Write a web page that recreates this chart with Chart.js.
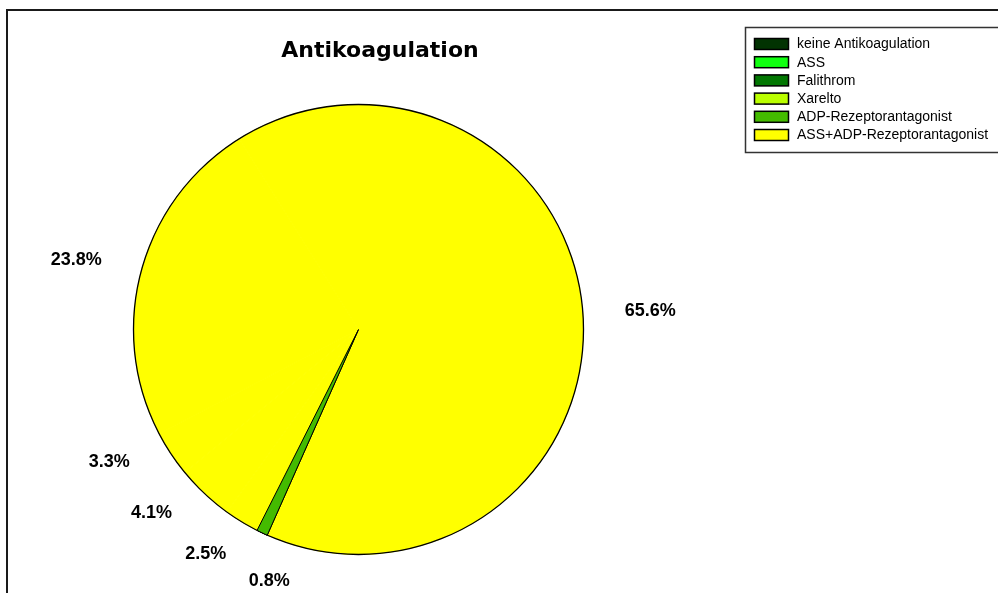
<!DOCTYPE html>
<html>
<head>
<meta charset="utf-8">
<script src="https://cdn.jsdelivr.net/npm/chart.js@4.4.1/dist/chart.umd.min.js"></script>
<style>
  html, body { margin: 0; padding: 0; background: #ffffff; overflow: hidden; }
  #c { display: block; }
</style>
</head>
<body>
<canvas id="c" width="998" height="593"></canvas>
<script>
// Chart content
const chartTitle = 'Antikoagulation';
const categories = [
  'keine Antikoagulation',
  'ASS',
  'Falithrom',
  'Xarelto',
  'ADP-Rezeptorantagonist',
  'ASS+ADP-Rezeptorantagonist'
];
const shares = [23.8, 3.3, 4.1, 2.5, 0.8, 65.6];

// Colours
const legendColors = ['#023302', '#11FF11', '#027702', '#BBFF00', '#44BB00', '#FFFF00'];
const sliceColors  = ['#FFFF00', '#FFFF00', '#FFFF00', '#FFFF00', '#44BB00', '#FFFF00'];
const outlinedSlice = categories.indexOf('ADP-Rezeptorantagonist');

// Slices run counter-clockwise in legend order, so feed them to the chart reversed.
const order = categories.map((_, i) => categories.length - 1 - i);

const LABEL_FONT = 'bold 18px "Liberation Sans", Arial, sans-serif';
const LEGEND_FONT = '14px "Liberation Sans", Arial, sans-serif';
const TITLE_FONT = 'bold 22px "DejaVu Sans", Verdana, sans-serif';

const decor = {
  id: 'decor',
  afterDatasetsDraw(chart) {
    const ctx = chart.ctx;
    const meta = chart.getDatasetMeta(0);
    const first = meta.data[0].getProps(['x', 'y', 'outerRadius'], true);
    // pie outline
    ctx.save();
    ctx.beginPath();
    ctx.arc(first.x, first.y, first.outerRadius, 0, Math.PI * 2);
    ctx.lineWidth = 1.3;
    ctx.strokeStyle = '#000000';
    ctx.stroke();
    ctx.restore();
    // the outlined wedge on top so its edges stay whole
    const k = order.indexOf(outlinedSlice);
    ctx.save();
    meta.data[k].draw(ctx);
    ctx.restore();
  },
  afterDraw(chart) {
    const ctx = chart.ctx;
    const meta = chart.getDatasetMeta(0);

    // outer frame
    ctx.save();
    ctx.strokeStyle = '#1a1a1a';
    ctx.lineWidth = 2;
    ctx.strokeRect(7, 10, 1200, 800);
    ctx.restore();

    // title
    ctx.save();
    ctx.font = TITLE_FONT;
    ctx.fillStyle = '#000000';
    ctx.textAlign = 'center';
    ctx.textBaseline = 'alphabetic';
    ctx.fillText(chartTitle, 380, 57);
    ctx.restore();

    // percentage labels outside the pie
    ctx.save();
    ctx.font = LABEL_FONT;
    const items = meta.data.map((el, k) => {
      const p = el.getProps(['x', 'y', 'startAngle', 'endAngle', 'outerRadius'], true);
      const txt = shares[order[k]].toFixed(1) + '%';
      return { p, txt, w: ctx.measureText(txt).width, a: (p.startAngle + p.endAngle) / 2 };
    });
    // spread crowded labels apart by a minimum angular gap
    const minGap = 14 * Math.PI / 180;
    const sorted = items.slice().sort((u, v) => u.a - v.a);
    for (let it = 0; it < 200; it++) {
      for (let j = 0; j < sorted.length - 1; j++) {
        const gap = sorted[j + 1].a - sorted[j].a;
        if (gap < minGap) {
          const push = (minGap - gap) / 2;
          sorted[j].a -= push;
          sorted[j + 1].a += push;
        }
      }
    }
    ctx.fillStyle = '#000000';
    ctx.textAlign = 'center';
    ctx.textBaseline = 'middle';
    items.forEach(o => {
      const c = Math.cos(o.a), s = Math.sin(o.a);
      const rx = o.p.outerRadius + 42 + o.w / 2;
      const ry = o.p.outerRadius + 40;
      ctx.fillText(o.txt, o.p.x + rx * c, o.p.y + ry * s);
    });
    ctx.restore();

    // legend
    ctx.save();
    ctx.strokeStyle = '#333333';
    ctx.lineWidth = 1.5;
    ctx.strokeRect(745.5, 27.5, 400, 125);
    ctx.font = LEGEND_FONT;
    ctx.textAlign = 'left';
    ctx.textBaseline = 'middle';
    categories.forEach((name, i) => {
      const top = 38.5 + 18.2 * i;
      ctx.fillStyle = legendColors[i];
      ctx.fillRect(754.5, top, 34, 11);
      ctx.strokeStyle = '#000000';
      ctx.lineWidth = 1.5;
      ctx.strokeRect(754.5, top, 34, 11);
      ctx.fillStyle = '#000000';
      ctx.fillText(name, 797, top + 6);
    });
    ctx.restore();
  }
};

new Chart(document.getElementById('c').getContext('2d'), {
  type: 'pie',
  data: {
    labels: order.map(i => categories[i]),
    datasets: [{
      data: order.map(i => shares[i]),
      backgroundColor: order.map(i => sliceColors[i]),
      borderColor: order.map(i => (i === outlinedSlice ? '#000000' : sliceColors[i])),
      borderWidth: 1
    }]
  },
  options: {
    responsive: false,
    animation: false,
    events: [],
    rotation: -32,
    layout: { padding: { left: 133, right: 414, top: 104, bottom: 38 } },
    plugins: {
      legend: { display: false },
      title: { display: false },
      tooltip: { enabled: false }
    }
  },
  plugins: [decor]
});
</script>
</body>
</html>
